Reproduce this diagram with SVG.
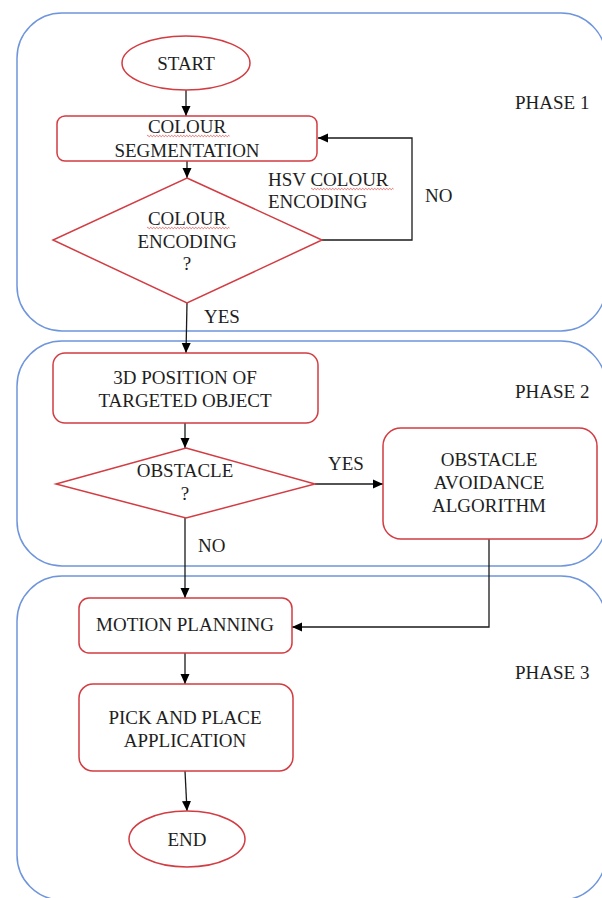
<svg xmlns="http://www.w3.org/2000/svg" width="602" height="898" viewBox="0 0 602 898">
<defs>
<style>
.phase{fill:none;stroke:#6f95dc;stroke-width:1.5}
.node{fill:#fff;stroke:#d23c42;stroke-width:1.5}
.t{font-family:"Liberation Serif","Times New Roman",serif;font-size:19px;fill:#1e1e1e;text-anchor:middle}
.l{font-family:"Liberation Serif","Times New Roman",serif;font-size:19px;fill:#1e1e1e}
.c{fill:none;stroke:#1a1a1a;stroke-width:1.3}
.wave{fill:none;stroke:#e04848;stroke-width:0.8}
</style>
<marker id="ah" markerUnits="userSpaceOnUse" markerWidth="10" markerHeight="10" viewBox="0 0 10 10" refX="10" refY="5" orient="auto">
<path d="M0,0.5 L10,5 L0,9.5 z" fill="#000"/>
</marker>
</defs>
<rect id="phase1" class="phase" x="17" y="13" width="589" height="318" rx="45"/>
<rect id="phase2" class="phase" x="17" y="341" width="589" height="225" rx="45"/>
<rect id="phase3" class="phase" x="17" y="576" width="589" height="324" rx="45"/>
<text class="l" x="515" y="109">PHASE 1</text>
<text class="l" x="515" y="398">PHASE 2</text>
<text class="l" x="515" y="679">PHASE 3</text>
<g id="connectors">
<line class="c" x1="186" y1="90" x2="186" y2="116" marker-end="url(#ah)"/>
<line class="c" x1="187" y1="161" x2="187" y2="178" marker-end="url(#ah)"/>
<polyline class="c" points="322,240 412,240 412,138 318,138" marker-end="url(#ah)"/>
<line class="c" x1="187" y1="303" x2="186" y2="353" marker-end="url(#ah)"/>
<line class="c" x1="185" y1="423" x2="185" y2="448" marker-end="url(#ah)"/>
<line class="c" x1="315" y1="484" x2="383" y2="484" marker-end="url(#ah)"/>
<line class="c" x1="185" y1="518" x2="185" y2="598" marker-end="url(#ah)"/>
<polyline class="c" points="489,539 489,627 292,627" marker-end="url(#ah)"/>
<line class="c" x1="185" y1="653" x2="185" y2="684" marker-end="url(#ah)"/>
<line class="c" x1="185" y1="771" x2="187" y2="811" marker-end="url(#ah)"/>
<text class="l" x="268" y="186">HSV COLOUR</text>
<text class="l" x="268" y="208">ENCODING</text>
<path class="wave" d="M311,189 q0.75,-1.3 1.5,0 t1.5,0 t1.5,0 t1.5,0 t1.5,0 t1.5,0 t1.5,0 t1.5,0 t1.5,0 t1.5,0 t1.5,0 t1.5,0 t1.5,0 t1.5,0 t1.5,0 t1.5,0 t1.5,0 t1.5,0 t1.5,0 t1.5,0 t1.5,0 t1.5,0 t1.5,0 t1.5,0 t1.5,0 t1.5,0 t1.5,0 t1.5,0 t1.5,0 t1.5,0 t1.5,0 t1.5,0 t1.5,0 t1.5,0 t1.5,0 t1.5,0 t1.5,0 t1.5,0 t1.5,0 t1.5,0 t1.5,0 t1.5,0 t1.5,0 t1.5,0 t1.5,0 t1.5,0 t1.5,0 t1.5,0 t1.5,0 t1.5,0 t1.5,0 t1.5,0 t1.5,0 t1.5,0 t1.5,0"/>
<text class="l" x="425" y="202">NO</text>
<text class="l" x="204" y="323">YES</text>
<text class="l" x="328" y="470">YES</text>
<text class="l" x="198" y="552">NO</text>
</g>
<g id="start">
<ellipse class="node" cx="186" cy="63" rx="64" ry="27"/>
<text class="t" x="186" y="70">START</text>
</g>
<g id="colour-segmentation">
<rect class="node" x="57" y="116" width="260" height="45" rx="8"/>
<text class="t" x="187" y="133">COLOUR</text>
<text class="t" x="187" y="157">SEGMENTATION</text>
<path class="wave" d="M147,136 q0.75,-1.3 1.5,0 t1.5,0 t1.5,0 t1.5,0 t1.5,0 t1.5,0 t1.5,0 t1.5,0 t1.5,0 t1.5,0 t1.5,0 t1.5,0 t1.5,0 t1.5,0 t1.5,0 t1.5,0 t1.5,0 t1.5,0 t1.5,0 t1.5,0 t1.5,0 t1.5,0 t1.5,0 t1.5,0 t1.5,0 t1.5,0 t1.5,0 t1.5,0 t1.5,0 t1.5,0 t1.5,0 t1.5,0 t1.5,0 t1.5,0 t1.5,0 t1.5,0 t1.5,0 t1.5,0 t1.5,0 t1.5,0 t1.5,0 t1.5,0 t1.5,0 t1.5,0 t1.5,0 t1.5,0 t1.5,0 t1.5,0 t1.5,0 t1.5,0 t1.5,0 t1.5,0 t1.5,0 t1.5,0 t1.5,0"/>
</g>
<g id="colour-encoding">
<polygon class="node" points="187,178 322,240 187,303 53,240"/>
<text class="t" x="187" y="225">COLOUR</text>
<text class="t" x="187" y="248">ENCODING</text>
<text class="t" x="187" y="270">?</text>
<path class="wave" d="M147,228 q0.75,-1.3 1.5,0 t1.5,0 t1.5,0 t1.5,0 t1.5,0 t1.5,0 t1.5,0 t1.5,0 t1.5,0 t1.5,0 t1.5,0 t1.5,0 t1.5,0 t1.5,0 t1.5,0 t1.5,0 t1.5,0 t1.5,0 t1.5,0 t1.5,0 t1.5,0 t1.5,0 t1.5,0 t1.5,0 t1.5,0 t1.5,0 t1.5,0 t1.5,0 t1.5,0 t1.5,0 t1.5,0 t1.5,0 t1.5,0 t1.5,0 t1.5,0 t1.5,0 t1.5,0 t1.5,0 t1.5,0 t1.5,0 t1.5,0 t1.5,0 t1.5,0 t1.5,0 t1.5,0 t1.5,0 t1.5,0 t1.5,0 t1.5,0 t1.5,0 t1.5,0 t1.5,0 t1.5,0 t1.5,0 t1.5,0"/>
</g>
<g id="position">
<rect class="node" x="53" y="353" width="265" height="70" rx="12"/>
<text class="t" x="185" y="384">3D POSITION OF</text>
<text class="t" x="185" y="407">TARGETED OBJECT</text>
</g>
<g id="obstacle">
<polygon class="node" points="186,448 315,484 186,518 56,484"/>
<text class="t" x="185" y="477">OBSTACLE</text>
<text class="t" x="185" y="500">?</text>
</g>
<g id="avoidance">
<rect class="node" x="383" y="428" width="214" height="111" rx="18"/>
<text class="t" x="489" y="466">OBSTACLE</text>
<text class="t" x="489" y="489">AVOIDANCE</text>
<text class="t" x="489" y="512">ALGORITHM</text>
</g>
<g id="motion-planning">
<rect class="node" x="79" y="598" width="213" height="55" rx="10"/>
<text class="t" x="185" y="631">MOTION PLANNING</text>
</g>
<g id="pick-place">
<rect class="node" x="79" y="684" width="214" height="87" rx="14"/>
<text class="t" x="185" y="724">PICK AND PLACE</text>
<text class="t" x="185" y="747">APPLICATION</text>
</g>
<g id="end">
<ellipse class="node" cx="187" cy="839" rx="58" ry="28"/>
<text class="t" x="187" y="846">END</text>
</g>
</svg>
